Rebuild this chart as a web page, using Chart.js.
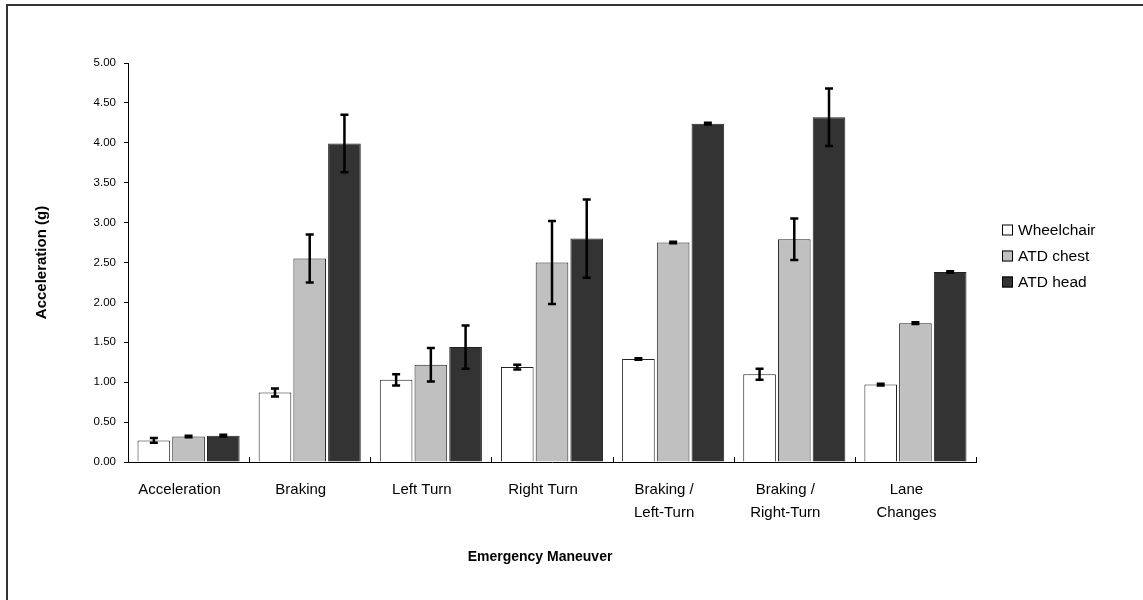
<!DOCTYPE html>
<html>
<head>
<meta charset="utf-8">
<script src="https://cdn.jsdelivr.net/npm/chart.js@4.4.1/dist/chart.umd.min.js"></script>
<style>
  html, body { margin: 0; padding: 0; background: #fff; }
  #wrap { position: relative; width: 1143px; height: 600px; }
</style>
</head>
<body>
<div id="wrap"><canvas id="c" width="1143" height="600"></canvas></div>
<script>
// ---- data ----
const categories = ['Acceleration', 'Braking', 'Left Turn', 'Right Turn',
  ['Braking /', 'Left-Turn'], ['Braking /', 'Right-Turn'], ['Lane', 'Changes']];
const seriesNames = ['Wheelchair', 'ATD chest', 'ATD head'];
const wheelchair    = [0.27, 0.87, 1.03, 1.19, 1.29, 1.10, 0.97];
const wheelchairErr = [0.03, 0.05, 0.07, 0.03, 0.01, 0.07, 0.01];
const atdChest      = [0.32, 2.55, 1.22, 2.50, 2.75, 2.79, 1.74];
const atdChestErr   = [0.01, 0.30, 0.21, 0.52, 0.01, 0.26, 0.01];
const atdHead       = [0.33, 3.99, 1.44, 2.80, 4.24, 4.32, 2.38];
const atdHeadErr    = [0.01, 0.36, 0.27, 0.49, 0.01, 0.36, 0.01];
const yTicks = [0, 0.5, 1, 1.5, 2, 2.5, 3, 3.5, 4, 4.5, 5];
const xTitle = 'Emergency Maneuver';
const yTitle = 'Acceleration (g)';

const colors = ['#FFFFFF', '#C0C0C0', '#333333'];
const FONT = "'Liberation Sans', Arial, sans-serif";

const errorBars = {
  id: 'errorBars',
  afterDatasetsDraw(chart) {
    const ctx = chart.ctx;
    const y = chart.scales.y;
    ctx.save();
    ctx.strokeStyle = '#000';
    ctx.lineWidth = 2.5;
    chart.data.datasets.forEach((ds, i) => {
      const meta = chart.getDatasetMeta(i);
      meta.data.forEach((bar, j) => {
        const v = ds.data[j], e = ds.errors[j];
        const yTop = y.getPixelForValue(v + e);
        const yBot = y.getPixelForValue(v - e);
        const x = bar.x;
        ctx.beginPath();
        ctx.moveTo(x, yTop); ctx.lineTo(x, yBot);
        ctx.moveTo(x - 4, yTop); ctx.lineTo(x + 4, yTop);
        ctx.moveTo(x - 4, yBot); ctx.lineTo(x + 4, yBot);
        ctx.stroke();
      });
    });
    ctx.restore();
  }
};

const decor = {
  id: 'decor',
  afterDraw(chart) {
    const ctx = chart.ctx;
    const x = chart.scales.x;
    const area = chart.chartArea;
    ctx.save();
    // category boundary ticks pointing up
    ctx.strokeStyle = '#000';
    ctx.lineWidth = 1;
    const n = categories.length;
    const step = (x.getPixelForValue(1) - x.getPixelForValue(0));
    for (let i = 1; i <= n; i++) {
      const px = Math.round(x.getPixelForValue(i - 1) + step / 2) + 0.5;
      ctx.beginPath();
      ctx.moveTo(px, area.bottom);
      ctx.lineTo(px, area.bottom - 5);
      ctx.stroke();
    }
    // x axis title
    ctx.fillStyle = '#000';
    ctx.font = "bold 14px 'Liberation Sans Narrow', 'Liberation Sans', Arial, sans-serif";
    ctx.textAlign = 'center';
    ctx.textBaseline = 'middle';
    ctx.fillText(xTitle, (area.left + area.right) / 2 - 12, 557);
    // legend
    const lx = area.right + 26;
    const ly0 = (area.top + area.bottom) / 2 - 32;
    ctx.font = '15.5px ' + FONT;
    ctx.textAlign = 'left';
    chart.data.datasets.forEach((ds, i) => {
      const cy = ly0 + i * 26;
      ctx.fillStyle = ds.backgroundColor;
      ctx.fillRect(lx, cy - 6, 11, 11);
      ctx.strokeStyle = '#000';
      ctx.strokeRect(lx + 0.5, cy - 5.5, 10, 10);
      ctx.fillStyle = '#000';
      ctx.fillText(ds.label, lx + 16, cy);
    });
    // outer frame (top & left)
    ctx.strokeStyle = '#333';
    ctx.lineWidth = 2;
    ctx.beginPath();
    ctx.moveTo(7, 700); ctx.lineTo(7, 5); ctx.lineTo(1200, 5);
    ctx.stroke();
    ctx.restore();
  }
};

const datasets = [
  { label: seriesNames[0], data: wheelchair, errors: wheelchairErr, backgroundColor: colors[0] },
  { label: seriesNames[1], data: atdChest, errors: atdChestErr, backgroundColor: colors[1] },
  { label: seriesNames[2], data: atdHead, errors: atdHeadErr, backgroundColor: colors[2] }
].map(d => Object.assign(d, { borderColor: '#222', borderWidth: 1, categoryPercentage: 0.86, barPercentage: 0.94 }));

new Chart(document.getElementById('c'), {
  type: 'bar',
  data: { labels: categories, datasets },
  options: {
    responsive: false,
    devicePixelRatio: 1,
    animation: false,
    layout: { padding: { left: 0, top: 63, right: 167, bottom: 0 } },
    plugins: { legend: { display: false }, tooltip: { enabled: false } },
    scales: {
      x: {
        grid: { display: false, drawOnChartArea: false, drawTicks: false },
        border: { display: true, color: '#000', width: 1 },
        ticks: { color: '#000', font: { family: FONT, size: 15, lineHeight: 1.5 }, padding: 17,
                 labelOffset: -9, maxRotation: 0, autoSkip: false },
        title: { display: false },
        afterFit(s) { s.height = 138; }
      },
      y: {
        min: 0, max: 5,
        afterBuildTicks(s) { s.ticks = yTicks.map(v => ({ value: v })); },
        grid: { drawOnChartArea: false, drawTicks: true, tickLength: 4, color: '#000' },
        border: { display: true, color: '#000', width: 1 },
        ticks: { color: '#000', font: { family: FONT, size: 11.5 }, padding: 8,
                 callback: v => Number(v).toFixed(2) },
        title: { display: true, text: yTitle, color: '#000',
                 font: { family: FONT, size: 15, weight: 'bold' }, padding: { top: 33, bottom: 0 } },
        afterFit(s) { s.width = 128; }
      }
    }
  },
  plugins: [errorBars, decor]
});
</script>
</body>
</html>
